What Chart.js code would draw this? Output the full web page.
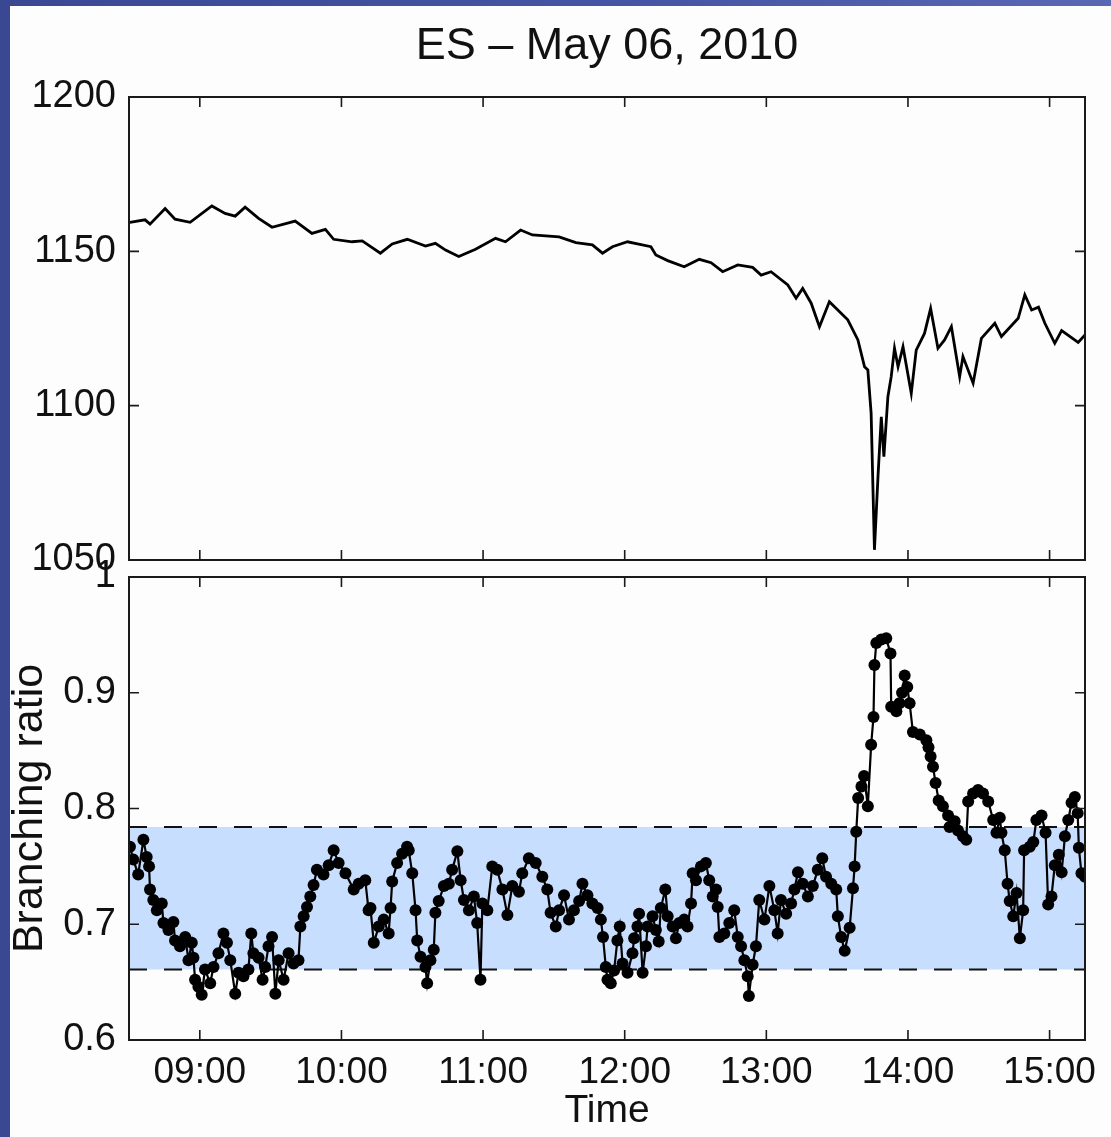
<!DOCTYPE html>
<html>
<head>
<meta charset="utf-8">
<script src="https://cdn.jsdelivr.net/npm/chart.js@4.4.1/dist/chart.umd.min.js"></script>
<style>
  html, body { margin: 0; padding: 0; }
  body { width: 1111px; height: 1137px; overflow: hidden; position: relative;
         background: linear-gradient(90deg, #3a4894 0%, #4656a6 60%, #5a68b4 100%); }
  #paper { position: absolute; left: 10px; top: 6px; right: 0; bottom: 0; background: #fdfdfd; }
  canvas { position: absolute; left: 0; top: 0; }
</style>
</head>
<body>
<div id="paper"></div>
<canvas id="ratio-chart" width="1111" height="1137"></canvas>
<canvas id="price-chart" width="1111" height="1137"></canvas>
<script>
// time in minutes after midnight (08:30 = 510)
const priceTimes = [510.4, 516.8, 518.9, 525.3, 529.5, 535.9, 545.1, 550.7, 555.0, 559.2,
  564.9, 570.6, 580.4, 587.5, 593.2, 596.7, 604.5, 608.8, 616.5, 621.5,
  627.9, 635.6, 639.8, 644.1, 649.7, 656.8, 665.3, 669.5, 675.9, 680.9,
  692.2, 699.3, 706.3, 710.6, 714.8, 721.2, 725.4, 731.1, 733.2, 738.2,
  745.2, 751.6, 756.6, 761.5, 767.9, 774.2, 777.8, 782.0, 789.1, 792.6,
  795.4, 799.0, 802.5, 806.7, 814.5, 818.8, 821.6, 823.0, 824.4, 825.8,
  827.3, 828.7, 829.8, 831.5, 832.9, 834.3, 835.8, 837.9, 841.4, 843.5,
  847.0, 849.6, 852.7, 855.5, 858.4, 861.9, 863.3, 867.6, 871.1, 876.8,
  879.6, 886.7, 889.5, 892.4, 895.3, 898.0, 902.2, 905.1, 912.1, 915];
const priceValues = [1159.4, 1160.2, 1158.8, 1163.9, 1160.4, 1159.4, 1164.7, 1162.3, 1161.4, 1164.3,
  1160.7, 1157.8, 1159.8, 1155.8, 1157.1, 1153.9, 1153.1, 1153.4, 1149.4, 1152.4,
  1153.9, 1151.7, 1152.6, 1150.4, 1148.3, 1150.7, 1154.2, 1153.1, 1156.9, 1155.3,
  1154.7, 1152.8, 1152.1, 1149.4, 1151.5, 1153.1, 1152.4, 1151.5, 1148.8, 1147.0,
  1145.0, 1147.4, 1146.3, 1143.4, 1145.6, 1144.8, 1142.3, 1143.4, 1139.1, 1134.8,
  1138.0, 1133.2, 1125.6, 1133.7, 1127.8, 1121.3, 1112.6, 1111.6, 1097.5, 1053.3,
  1077.0, 1096.4, 1083.5, 1102.9, 1109.4, 1118.6, 1112.6, 1119.1, 1104.0, 1118.0,
  1123.4, 1131.5, 1118.6, 1121.3, 1125.6, 1109.4, 1115.9, 1107.3, 1121.8, 1126.7,
  1122.4, 1128.3, 1135.9, 1131.0, 1131.9, 1126.7, 1120.2, 1124.3, 1120.5, 1122.9];

const ratioTimes = [510.4, 511.8, 513.9, 516.1, 517.5, 518.5, 518.9, 520.3, 521.8, 523.9,
  524.6, 526.7, 528.8, 529.5, 531.6, 533.8, 535.2, 536.6, 537.3, 538.0,
  539.4, 540.8, 542.2, 544.4, 545.8, 547.9, 550.0, 551.5, 552.9, 555.0,
  556.4, 558.5, 560.6, 561.8, 562.7, 564.9, 566.6, 567.7, 569.1, 570.6,
  572.0, 573.4, 575.5, 577.6, 579.7, 581.8, 582.6, 584.0, 585.4, 586.8,
  588.2, 589.6, 592.4, 594.6, 596.7, 598.8, 601.7, 605.2, 607.3, 610.1,
  611.5, 612.3, 613.7, 615.8, 617.9, 620.0, 620.8, 621.5, 623.6, 625.7,
  627.8, 628.5, 630.0, 631.4, 632.1, 633.5, 635.6, 636.3, 637.7, 639.1,
  639.8, 641.2, 643.4, 645.5, 646.9, 649.1, 650.5, 651.9, 654.0, 656.1,
  657.5, 658.9, 659.7, 661.8, 663.9, 666.0, 668.2, 670.3, 672.4, 675.2,
  676.6, 679.4, 682.3, 685.1, 687.2, 688.6, 690.8, 692.2, 694.3, 696.4,
  698.5, 700.7, 702.1, 704.2, 706.3, 708.5, 709.9, 710.8, 712.0, 712.7,
  714.1, 715.5, 716.9, 717.9, 719.1, 721.2, 723.3, 724.0, 725.4, 726.1,
  727.6, 729.0, 729.7, 731.8, 733.2, 734.4, 735.3, 737.2, 738.2, 740.3,
  741.7, 743.1, 745.2, 746.6, 748.1, 748.8, 750.2, 752.3, 754.4, 755.8,
  757.3, 758.7, 759.4, 760.1, 762.2, 764.3, 766.4, 767.9, 769.3, 770.7,
  772.1, 772.6, 774.2, 775.6, 777.0, 779.2, 781.3, 783.4, 784.8, 786.2,
  788.4, 790.5, 791.9, 793.4, 795.4, 797.6, 799.7, 801.8, 803.7, 805.3,
  807.5, 809.6, 810.3, 811.7, 813.2, 815.3, 816.7, 817.4, 818.1, 818.9,
  820.3, 821.4, 823.0, 824.4, 825.4, 825.8, 826.6, 828.7, 830.8, 832.6,
  832.9, 835.1, 836.4, 837.5, 838.6, 839.7, 840.7, 842.1, 845.0, 847.8,
  848.7, 849.6, 850.6, 851.7, 853.0, 854.8, 857.0, 857.6, 859.8, 861.2,
  863.3, 864.7, 865.5, 867.6, 869.7, 871.8, 874.0, 876.1, 877.5, 878.9,
  879.6, 881.0, 882.2, 883.1, 884.6, 886.0, 887.4, 888.8, 889.2, 891.6,
  893.1, 894.4, 896.6, 898.3, 899.4, 900.8, 902.2, 903.9, 905.1, 906.5,
  907.9, 909.3, 910.7, 911.9, 912.4, 913.5, 915];
const ratioValues = [0.767, 0.756, 0.743, 0.773, 0.758, 0.750, 0.730, 0.721, 0.712, 0.718,
  0.701, 0.695, 0.702, 0.686, 0.681, 0.689, 0.669, 0.684, 0.671, 0.652,
  0.646, 0.639, 0.661, 0.649, 0.663, 0.675, 0.692, 0.684, 0.669, 0.640,
  0.658, 0.655, 0.661, 0.692, 0.675, 0.671, 0.652, 0.663, 0.681, 0.689,
  0.640, 0.669, 0.652, 0.675, 0.666, 0.669, 0.698, 0.707, 0.715, 0.724,
  0.734, 0.747, 0.743, 0.751, 0.764, 0.753, 0.744, 0.730, 0.735, 0.738,
  0.712, 0.714, 0.684, 0.698, 0.704, 0.692, 0.714, 0.737, 0.753, 0.761,
  0.767, 0.764, 0.744, 0.712, 0.686, 0.672, 0.663, 0.649, 0.669, 0.678,
  0.710, 0.720, 0.733, 0.735, 0.747, 0.763, 0.738, 0.721, 0.712, 0.724,
  0.701, 0.652, 0.718, 0.712, 0.750, 0.747, 0.730, 0.708, 0.733, 0.728,
  0.744, 0.757, 0.753, 0.741, 0.730, 0.710, 0.698, 0.712, 0.725, 0.704,
  0.712, 0.720, 0.735, 0.725, 0.718, 0.714, 0.704, 0.689, 0.663, 0.652,
  0.649, 0.660, 0.686, 0.698, 0.666, 0.658, 0.675, 0.688, 0.698, 0.709,
  0.658, 0.681, 0.698, 0.707, 0.695, 0.685, 0.714, 0.730, 0.707, 0.698,
  0.688, 0.701, 0.704, 0.698, 0.718, 0.744, 0.738, 0.750, 0.753, 0.738,
  0.724, 0.730, 0.715, 0.689, 0.692, 0.701, 0.712, 0.689, 0.681, 0.669,
  0.655, 0.638, 0.665, 0.681, 0.721, 0.704, 0.733, 0.712, 0.692, 0.721,
  0.709, 0.718, 0.730, 0.745, 0.735, 0.724, 0.733, 0.747, 0.757, 0.741,
  0.735, 0.730, 0.707, 0.689, 0.677, 0.697, 0.731, 0.750, 0.780, 0.809,
  0.819, 0.828, 0.802, 0.855, 0.879, 0.924, 0.943, 0.946, 0.947, 0.934,
  0.888, 0.884, 0.891, 0.900, 0.915, 0.905, 0.891, 0.866, 0.864, 0.859,
  0.853, 0.845, 0.836, 0.822, 0.807, 0.802, 0.794, 0.784, 0.789, 0.781,
  0.776, 0.773, 0.806, 0.813, 0.816, 0.813, 0.806, 0.790, 0.779, 0.792,
  0.779, 0.764, 0.735, 0.720, 0.707, 0.727, 0.688, 0.712, 0.764, 0.767,
  0.771, 0.790, 0.794, 0.779, 0.717, 0.724, 0.751, 0.760, 0.745, 0.776,
  0.790, 0.805, 0.810, 0.796, 0.766, 0.744, 0.741];

const bandLow = 0.661;
const bandHigh = 0.784;
const timeTicks = [540, 600, 660, 720, 780, 840, 900];
const priceTicks = [1050, 1100, 1150, 1200];
const ratioTicks = [0.6, 0.7, 0.8, 0.9, 1];

Chart.defaults.font.family = "'Liberation Sans', Arial, sans-serif";
Chart.defaults.color = '#111';

function hhmm(v) {
  return String(Math.floor(v / 60)).padStart(2, '0') + ':' + String(Math.round(v % 60)).padStart(2, '0');
}

// matlab style box + inward ticks on all four sides
const boxPlugin = {
  id: 'box',
  beforeDraw(chart) {
    const a = chart.chartArea, ctx = chart.ctx;
    ctx.save();
    ctx.fillStyle = '#fdfdfd';
    ctx.fillRect(a.left, a.top, a.right - a.left, a.bottom - a.top);
    ctx.restore();
  },
  afterDraw(chart) {
    const a = chart.chartArea, ctx = chart.ctx;
    const len = 10;
    ctx.save();
    ctx.strokeStyle = '#1a1a1a';
    ctx.lineWidth = 1.6;
    ctx.beginPath();
    chart.scales.x.ticks.forEach((t, i) => {
      const px = chart.scales.x.getPixelForTick(i);
      ctx.moveTo(px, a.bottom); ctx.lineTo(px, a.bottom - len);
      ctx.moveTo(px, a.top); ctx.lineTo(px, a.top + len);
    });
    chart.scales.y.ticks.forEach((t, i) => {
      const py = chart.scales.y.getPixelForTick(i);
      ctx.moveTo(a.left, py); ctx.lineTo(a.left + len, py);
      ctx.moveTo(a.right, py); ctx.lineTo(a.right - len, py);
    });
    ctx.stroke();
    ctx.lineWidth = 2;
    ctx.strokeRect(a.left, a.top, a.right - a.left, a.bottom - a.top);
    ctx.restore();
  }
};

function xScale(showLabels, h) {
  return {
    type: 'linear', min: 510, max: 915,
    afterBuildTicks: s => { s.ticks = timeTicks.map(v => ({ value: v })); },
    afterFit: s => { s.height = h; },
    grid: { display: false }, border: { display: false },
    ticks: { display: showLabels, padding: 3, font: { size: 37 }, callback: v => hhmm(v) },
    title: showLabels ? { display: true, text: 'Time', font: { size: 39 }, padding: { top: 0, bottom: 2 } } : { display: false }
  };
}

new Chart(document.getElementById('price-chart'), {
  type: 'line',
  data: {
    datasets: [{
      data: priceTimes.map((t, i) => ({ x: t, y: priceValues[i] })),
      borderColor: '#000', borderWidth: 2.8, pointRadius: 0, tension: 0
    }]
  },
  options: {
    responsive: false, animation: false,
    layout: { padding: { left: 0, right: 26, top: 0, bottom: 577 } },
    plugins: {
      legend: { display: false }, tooltip: { enabled: false },
      title: { display: true, fullSize: false, text: 'ES \u2013 May 06, 2010', color: '#111',
               font: { size: 45, weight: 'normal' }, padding: { top: 20, bottom: 23 } }
    },
    scales: {
      x: xScale(false, 0),
      y: {
        min: 1050, max: 1200,
        afterBuildTicks: s => { s.ticks = priceTicks.map(v => ({ value: v })); },
        afterFit: s => { s.width = 129; },
        grid: { display: false }, border: { display: false },
        ticks: { padding: 5, font: { size: 38 }, callback: v => String(v) }
      }
    }
  },
  plugins: [boxPlugin]
});

new Chart(document.getElementById('ratio-chart'), {
  type: 'line',
  data: {
    datasets: [{
      data: ratioTimes.map((t, i) => ({ x: t, y: ratioValues[i] })),
      borderColor: '#000', borderWidth: 2.2, backgroundColor: '#000',
      pointRadius: 6, pointBorderWidth: 0, pointBackgroundColor: '#000', tension: 0, order: 0
    }, {
      data: [{ x: 510, y: bandLow }, { x: 915, y: bandLow }],
      borderColor: '#111', borderWidth: 2, borderDash: [18, 17], pointRadius: 0, fill: false, order: 1
    }, {
      data: [{ x: 510, y: bandHigh }, { x: 915, y: bandHigh }],
      borderColor: '#111', borderWidth: 2, borderDash: [18, 17], pointRadius: 0,
      fill: '-1', backgroundColor: 'rgb(200,222,255)', order: 2
    }]
  },
  options: {
    responsive: false, animation: false,
    layout: { padding: { left: 0, right: 26, top: 577, bottom: 0 } },
    plugins: { legend: { display: false }, tooltip: { enabled: false } },
    scales: {
      x: xScale(true, 97),
      y: {
        min: 0.6, max: 1,
        afterBuildTicks: s => { s.ticks = ratioTicks.map(v => ({ value: v })); },
        afterFit: s => { s.width = 129; },
        grid: { display: false }, border: { display: false },
        ticks: { padding: 5, font: { size: 38 }, callback: v => String(+v.toFixed(1)) },
        title: { display: true, text: 'Branching ratio', font: { size: 43 }, padding: { top: 4, bottom: 0 } }
      }
    }
  },
  plugins: [boxPlugin]
});
</script>
</body>
</html>
